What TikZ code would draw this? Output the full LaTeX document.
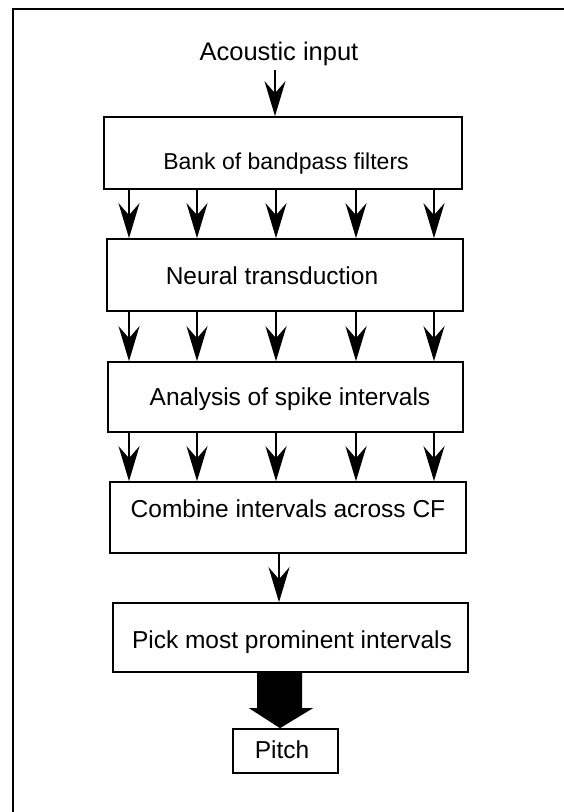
\documentclass[tikz,border=0pt]{standalone}
\usepackage{fontspec}
\setmainfont{Liberation Sans}
\usetikzlibrary{arrows.meta,calc}

\tikzset{
  stage/.style={draw=black, line width=1.7pt, rectangle, inner sep=0pt},
  caption/.style={anchor=base, inner sep=0pt, font=\fontsize{24.5}{28}\selectfont},
  thinarrow/.style={draw=black, line width=2pt,
    -{Stealth[length=35pt, width=21pt, inset=12pt]}},
  fatarrow/.style={fill=black},
  frameline/.style={draw=black, line width=2pt}
}

\begin{document}
\begin{tikzpicture}[x=1pt, y=-1pt]
  \useasboundingbox (0,0) rectangle (564,812);
  \fill[white] (0,0) rectangle (564,812);

  % outer frame (only the top and left edges fall inside the page)
  \draw[frameline] (13,812) -- (13,9) -- (564,9);

  % stage boxes
  \node[stage, minimum width=358pt, minimum height=72pt] (b1) at (283,153) {};
  \node[stage, minimum width=356pt, minimum height=72pt] (b2) at (285,275) {};
  \node[stage, minimum width=355pt, minimum height=70pt] (b3) at (285.5,397) {};
  \node[stage, minimum width=356pt, minimum height=71pt] (b4) at (288,517.5) {};
  \node[stage, minimum width=355pt, minimum height=69pt] (b5) at (290.5,637.5) {};
  \node[stage, minimum width=105pt, minimum height=44pt] (pt) at (285.5,751) {};

  % texts
  \node[caption, font=\fontsize{25.5}{29}\selectfont] (tin) at (279,60) {Acoustic input};
  \node[caption, font=\fontsize{23}{27}\selectfont] (t1) at (286,169) {Bank of bandpass filters};
  \node[caption] (t2) at (272,284) {Neural transduction};
  \node[caption] (t3) at (290,405) {Analysis of spike intervals};
  \node[caption] (t4) at (288,517) {Combine intervals across CF};
  \node[caption] (t5) at (292,648) {Pick most prominent intervals};
  \node[caption] (t6) at (282,758) {Pitch};

  % channel columns
  \coordinate (c1) at (129,0);
  \coordinate (c2) at (197,0);
  \coordinate (c3) at (276,0);
  \coordinate (c4) at (356,0);
  \coordinate (c5) at (434,0);
  \coordinate (cm) at (279,0);
  \coordinate (top) at (275,70);

  % input arrow
  \draw[thinarrow] (top) -- (b1.north -| top);

  % parallel channel arrows
  \foreach \c in {c1,c2,c3,c4,c5} {
    \draw[thinarrow] (b1.south -| \c) -- (b2.north -| \c);
    \draw[thinarrow] (b2.south -| \c) -- (b3.north -| \c);
    \draw[thinarrow] (b3.south -| \c) -- (b4.north -| \c);
  }

  % combined channel
  \draw[thinarrow] (b4.south -| cm) -- (b5.north -| cm);

  % broad output arrow
  \fill[fatarrow] let \p1=(b5.south), \p2=(pt.north) in
    (257pt,\y1) -- (302pt,\y1) -- (302pt,\y2+20pt) -- (313pt,\y2+20pt)
    -- (280pt,\y2) -- (249pt,\y2+20pt) -- (257pt,\y2+20pt) -- cycle;
\end{tikzpicture}
\end{document}
